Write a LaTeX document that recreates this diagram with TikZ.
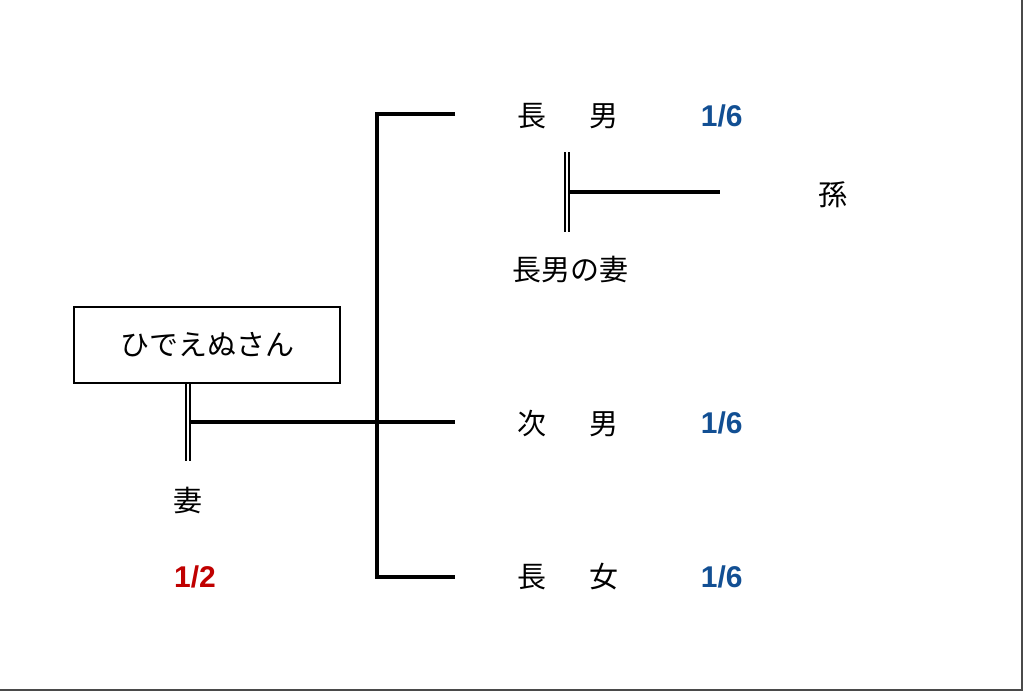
\documentclass[tikz,border=0pt]{standalone}
\usepackage{fontspec}
\setmainfont{Liberation Sans}
\newfontfamily\jpfont{Noto Sans CJK JP}
\usetikzlibrary{positioning}
\definecolor{shareBlue}{HTML}{124F93}
\definecolor{shareRed}{HTML}{C00000}
\definecolor{frameGray}{HTML}{4A4A4A}

\begin{document}
\begin{tikzpicture}[x=1pt,y=-1pt,
    person/.style={font=\jpfont\fontsize{29}{33}\selectfont,inner sep=0pt},
    share/.style={font=\bfseries\fontsize{30}{34}\selectfont,inner sep=0pt},
    line/.style={line width=3.2pt,line join=miter},
    marriage/.style={double,double distance=2.6pt,line width=1.4pt}]
    \useasboundingbox (0,0) rectangle (1024,694);
    \draw[frameGray,line width=2.4pt] (0,690)--(1022,690)--(1022,0);
    % people
    \node[person,draw,line width=1.3pt,minimum width=266pt,minimum height=76pt] (deceased) at (207,345) {ひでえぬさん};
    \node[person] (wife) at (188,500) {妻};
    \node[person] (son1) at (568,116) {長\hspace{43pt}男};
    \node[person] (son1wife) at (570,270) {長男の妻};
    \node[person] (grandchild) at (833,195) {孫};
    \node[person] (son2) at (568,423) {次\hspace{43pt}男};
    \node[person] (daughter) at (568,577) {長\hspace{43pt}女};
    % shares
    \node[share,text=shareRed] (wifeShare) at (195,577) {1/2};
    \node[share,text=shareBlue,right=82pt of son1] (son1Share) {1/6};
    \node[share,text=shareBlue,right=82pt of son2] (son2Share) {1/6};
    \node[share,text=shareBlue,right=82pt of daughter] (daughterShare) {1/6};
    % lines
    \coordinate (wifeEnd) at (188,461);
    \coordinate (trunkTop) at (377,114);
    \coordinate (trunkBot) at (377,577);
    \coordinate (son1End) at (455,114);
    \coordinate (son2End) at (455,422);
    \coordinate (daughterEnd) at (455,577);
    \coordinate (son1Top) at (567,152);
    \coordinate (son1Bot) at (567,232);
    \coordinate (grandEnd) at (720,192);
    \draw[marriage] (deceased.south -| wife) -- (wifeEnd);
    \draw[line] (190,422) -- (son2End);
    \draw[line] (son1End) -- (trunkTop) -- (trunkBot) -- (daughterEnd);
    \draw[marriage] (son1Top) -- (son1Bot);
    \draw[line] (569,192) -- (grandEnd);
\end{tikzpicture}
\end{document}
